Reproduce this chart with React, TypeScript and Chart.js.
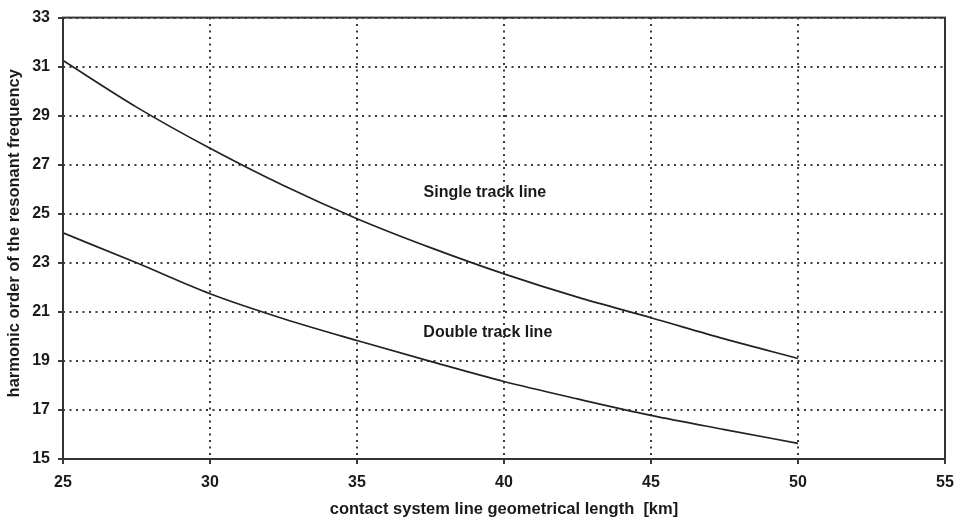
import React, { useEffect, useRef } from "react";
import { Chart, registerables } from "chart.js";

Chart.register(...registerables);

const lengthKm = [25, 27.5, 30, 32.5, 35, 37.5, 40, 42.5, 45, 47.5, 50];
const singleTrack = [31.25, 29.35, 27.67, 26.15, 24.8, 23.62, 22.55, 21.6, 20.76, 19.9, 19.1];
const doubleTrack = [24.22, 23.0, 21.74, 20.72, 19.83, 18.98, 18.16, 17.45, 16.78, 16.2, 15.64];

const xTicks = [25, 30, 35, 40, 45, 50, 55];
const yTicks = [15, 17, 19, 21, 23, 25, 27, 29, 31, 33];

const annotations = [
  { text: "Single track line", x: 39.35, y: 25.85 },
  { text: "Double track line", x: 39.45, y: 20.15 },
];

const xTitle = "contact system line geometrical length  [km]";
const yTitle = "harmonic order of the resonant frequency";

const FONT = "'Liberation Sans', Arial, sans-serif";

export default function App() {
  const ref = useRef<HTMLCanvasElement | null>(null);

  useEffect(() => {
    if (!ref.current) return;
    const toPts = (ys: number[]) => lengthKm.map((x, i) => ({ x, y: ys[i] }));

    const overlay = {
      id: "overlay",
      afterDraw(chart: any) {
        const { ctx, chartArea, scales } = chart;
        ctx.save();
        ctx.strokeStyle = "#333";
        ctx.lineWidth = 2;
        ctx.setLineDash([]);
        ctx.strokeRect(
          chartArea.left,
          chartArea.top,
          chartArea.right - chartArea.left,
          chartArea.bottom - chartArea.top
        );
        ctx.fillStyle = "#1a1a1a";
        ctx.font = `bold 16px ${FONT}`;
        ctx.textAlign = "center";
        ctx.textBaseline = "middle";
        annotations.forEach((a) => {
          ctx.fillText(a.text, scales.x.getPixelForValue(a.x), scales.y.getPixelForValue(a.y));
        });
        ctx.font = `bold 16.5px ${FONT}`;
        ctx.fillText(xTitle, (chartArea.left + chartArea.right) / 2, chart.height - 13);
        ctx.translate(14, (chartArea.top + chartArea.bottom) / 2 - 5);
        ctx.rotate(-Math.PI / 2);
        ctx.font = `bold 16.5px ${FONT}`;
        ctx.fillText(yTitle, 0, 0);
        ctx.restore();
      },
    };

    const gridOpts = {
      color: "#3a3a3a",
      lineWidth: 2,
      tickLength: 5,
      tickBorderDash: [],
    };

    const chart = new Chart(ref.current, {
      type: "scatter",
      data: {
        datasets: [
          {
            label: "Single track line",
            data: toPts(singleTrack),
            showLine: true,
            borderColor: "#222",
            borderWidth: 1.7,
            pointRadius: 0,
            cubicInterpolationMode: "monotone",
          },
          {
            label: "Double track line",
            data: toPts(doubleTrack),
            showLine: true,
            borderColor: "#222",
            borderWidth: 1.7,
            pointRadius: 0,
            cubicInterpolationMode: "monotone",
          },
        ],
      },
      options: {
        animation: false,
        responsive: false,
        layout: { padding: { top: 16, right: 19, left: 0, bottom: 0 } },
        plugins: { legend: { display: false }, tooltip: { enabled: false } },
        scales: {
          x: {
            type: "linear",
            min: 25,
            max: 55,
            afterBuildTicks: (s: any) => {
              s.ticks = xTicks.map((v) => ({ value: v }));
            },
            afterFit: (s: any) => {
              s.height = 63;
            },
            grid: gridOpts,
            border: { display: false, dash: [2, 4.5] },
            ticks: {
              color: "#1a1a1a",
              font: { family: FONT, size: 16, weight: "bold" },
              padding: 9,
              maxRotation: 0,
            },
          },
          y: {
            type: "linear",
            min: 15,
            max: 33,
            afterBuildTicks: (s: any) => {
              s.ticks = yTicks.map((v) => ({ value: v }));
            },
            afterFit: (s: any) => {
              s.width = 63;
            },
            grid: gridOpts,
            border: { display: false, dash: [2, 4.5] },
            ticks: {
              color: "#1a1a1a",
              font: { family: FONT, size: 16, weight: "bold" },
              padding: 8,
            },
          },
        },
      },
      plugins: [overlay],
    } as any);
    return () => chart.destroy();
  }, []);

  return (
    <div style={{ position: "fixed", left: 0, top: 0, width: 964, height: 522, background: "#fff" }}>
      <canvas ref={ref} width={964} height={522} />
    </div>
  );
}
